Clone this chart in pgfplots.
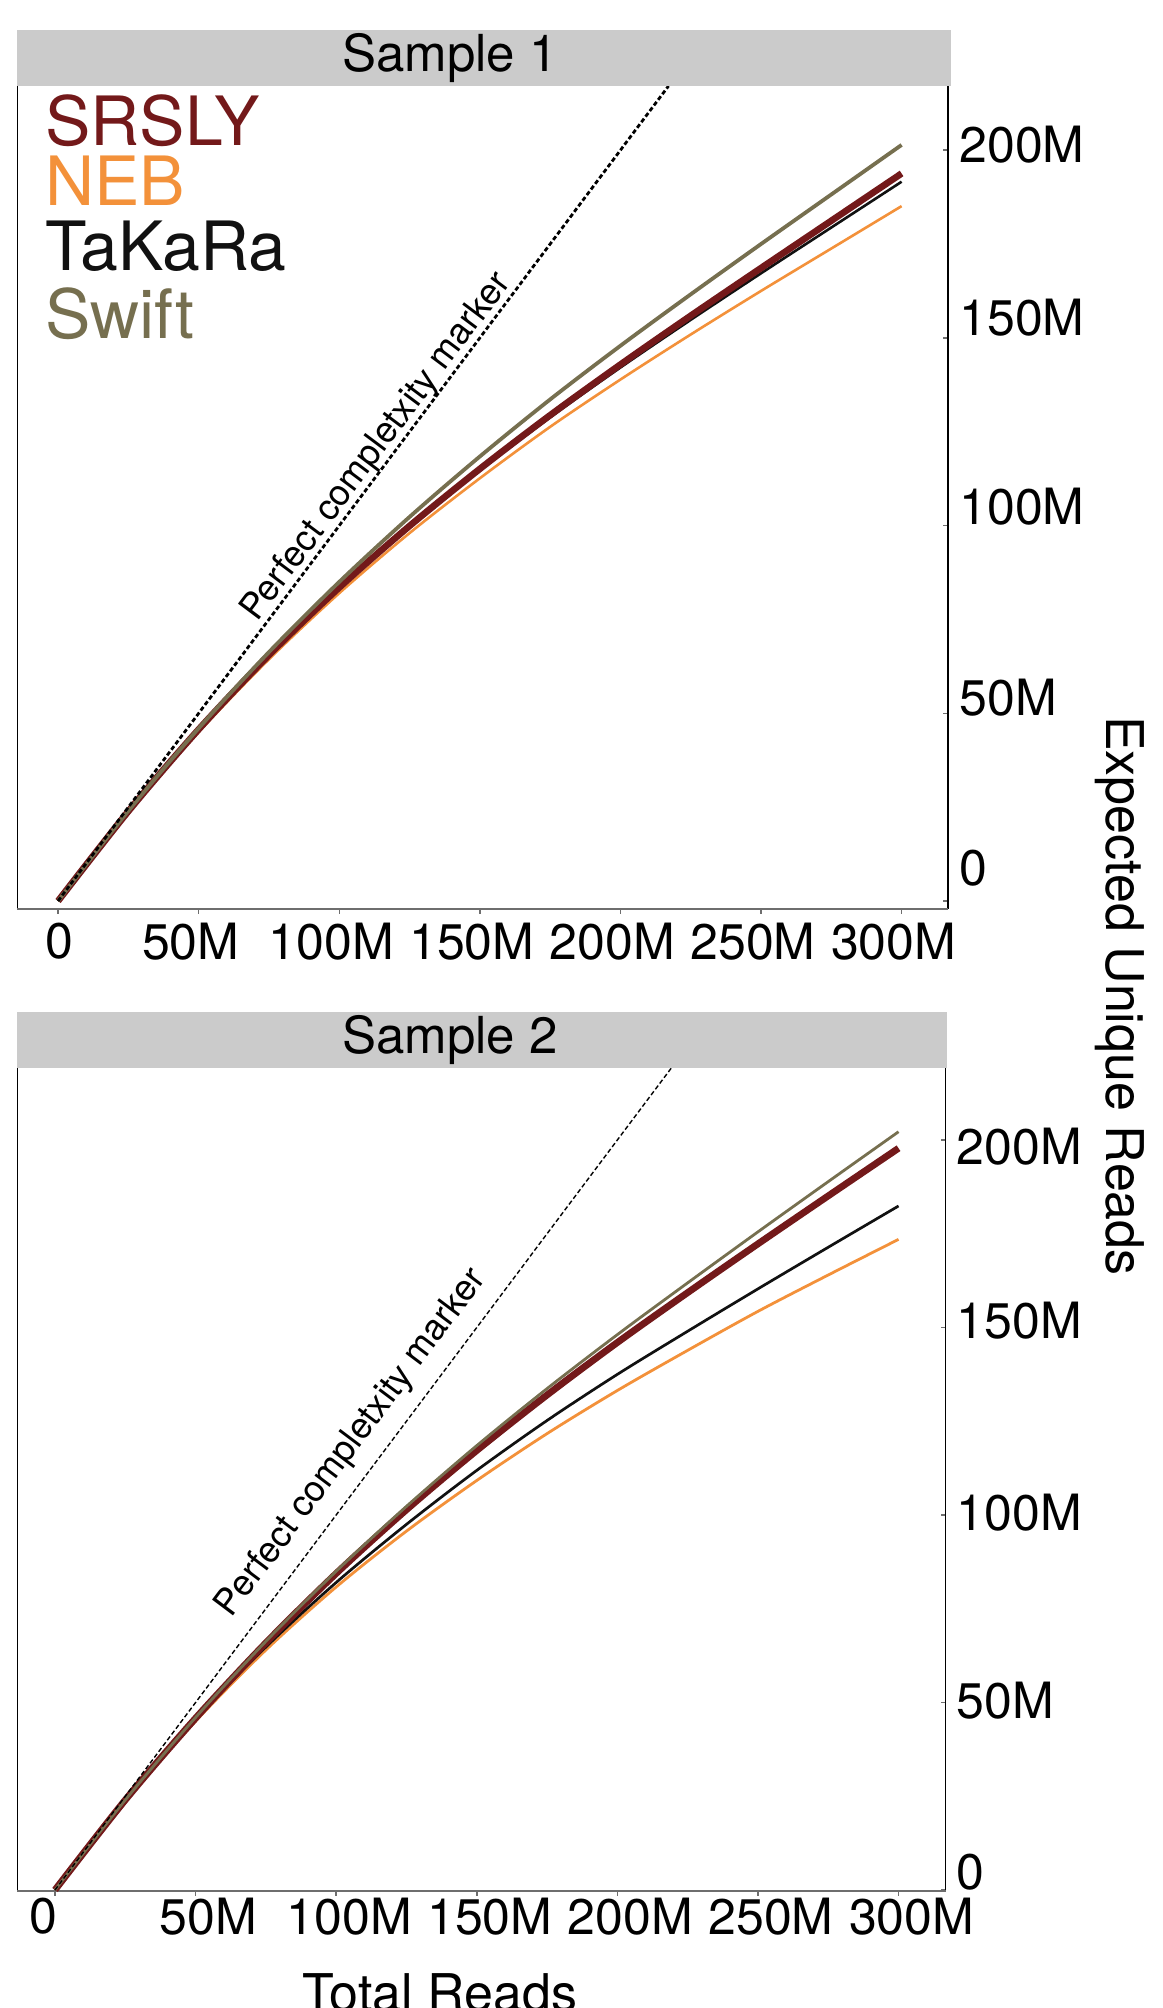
\documentclass[border=0pt]{standalone}
\usepackage{fontspec}
\setmainfont{TeX Gyre Heros}
\usepackage{pgfplots}
\usepackage{pgfplotstable}
\pgfplotsset{compat=1.18}

\definecolor{srsly}{RGB}{115,25,26}
\definecolor{neb}{RGB}{243,145,58}
\definecolor{takara}{RGB}{17,17,17}
\definecolor{swift}{RGB}{118,111,79}
\definecolor{stripgray}{RGB}{203,203,203}
\definecolor{tickgray}{RGB}{110,110,110}

\newcommand\ticfont{\fontsize{25}{30}\selectfont}
\newcommand\labfont{\fontsize{26}{31}\selectfont}
\newcommand\stripfont{\fontsize{25.5}{30}\selectfont}
\newcommand\legfont{\fontsize{34}{40}\selectfont}
\newcommand\pcfont{\fontsize{18}{22}\selectfont}

% Sample 1 (values in millions of reads)
\pgfplotstableread{
x srsly neb takara swift
0 0 0 0 0
25 23.9 23.7 23.9 24.0
50 45.7 45.0 45.6 46.0
75 65.5 64.4 65.3 66.3
100 83.5 82.0 83.3 85.0
125 99.9 98.0 99.6 102.3
150 115.1 112.6 114.7 118.4
175 129.4 126.3 128.8 133.6
200 142.9 138.9 142.1 147.9
225 155.9 150.9 154.8 161.6
250 168.6 162.5 167.2 175.0
275 181.2 173.8 179.4 188.2
300 193.8 185.1 191.6 201.4
}\sampleone

% Sample 2
\pgfplotstableread{
x srsly neb takara swift
0 0 0 0 0
25 24.0 23.7 23.9 24.0
50 45.8 45.0 45.5 46.0
75 65.9 64.0 64.8 66.3
100 84.4 80.8 82.0 85.0
125 101.4 95.7 97.5 102.3
150 117.2 109.2 111.9 118.5
175 132.0 121.7 125.2 133.7
200 146.0 133.2 137.5 148.1
225 159.3 143.9 149.0 161.9
250 172.3 154.3 160.3 175.5
275 185.1 164.0 171.4 188.9
300 197.8 173.5 182.4 202.2
}\sampletwo

\pgfplotsset{
  panel/.style={
    scale only axis, clip=false,
    axis line style={draw=none},
    tick align=outside, major tick length=2.5pt,
    tick style={tickgray, line width=0.75pt},
    xtick pos=left, ytick pos=right, yticklabel pos=right,
    xtick={0,50,100,150,200,250,300},
    ytick={0,50,100,150,200},
    every major y tick/.append style={xshift=-2.5pt},
    xticklabel style={font=\ticfont, inner sep=0pt, anchor=north},
    yticklabel style={font=\ticfont, inner sep=0pt, anchor=base west, xshift=3pt},
    every axis plot/.append style={no markers},
  }
}

\begin{document}
\begin{tikzpicture}
% ---------------- Sample 1 ----------------
\begin{axis}[panel, at={(8.65pt,549.5pt)}, anchor=south west,
  width=465.35pt, height=411.5pt,
  xmin=-14.5, xmax=316.5, ymin=-2.13, ymax=217.1,
  xticklabels={\hspace*{9.5pt}0,50M,100M,150M,200M,250M,300M},
  xticklabel style={xshift=-4pt, yshift=-4.5pt},
  yticklabels={\raisebox{7.5pt}{0},\raisebox{-1pt}{50M},\raisebox{0.5pt}{100M},\raisebox{1pt}{150M},\raisebox{-6pt}{200M}},
]
\draw[black, line width=0.7pt] (rel axis cs:0,0) -- (rel axis cs:0,1);
\draw[black, line width=0.7pt] (rel axis cs:1,0) -- (rel axis cs:1,1);
\draw[tickgray, line width=1pt] (rel axis cs:0,0) -- (rel axis cs:1,0);
\addplot[neb, line width=1.3pt, smooth] table[x=x,y=neb]{\sampleone};
\addplot[takara, line width=1.3pt, smooth] table[x=x,y=takara]{\sampleone};
\addplot[srsly, line width=3.3pt, smooth] table[x=x,y=srsly]{\sampleone};
\addplot[swift, line width=1.9pt, smooth] table[x=x,y=swift]{\sampleone};
\addplot[black, line width=1.4pt, dash pattern=on 2.2pt off 1.3pt] coordinates {(0,0) (217.1,217.1)};
\node[rotate=53.2, font=\pcfont, inner sep=0pt] at (axis cs:113.4,120.9) {Perfect completxity marker};
\end{axis}

% ---------------- Sample 2 ----------------
\begin{axis}[panel, at={(8.65pt,58.5pt)}, anchor=south west,
  width=464.1pt, height=411.5pt,
  xmin=-13.4, xmax=316.7, ymin=-0.27, ymax=219.2,
  xticklabels={\hspace*{-25pt}0,50M,100M,150M,200M,250M,300M},
  xticklabel style={xshift=6.5pt, yshift=-1pt},
  yticklabels={\raisebox{0pt}{0},\raisebox{-8pt}{50M},\raisebox{-8pt}{100M},\raisebox{-5.5pt}{150M},\raisebox{-12.5pt}{200M}},
]
\draw[black, line width=0.7pt] (rel axis cs:0,0) -- (rel axis cs:0,1);
\draw[black, line width=0.7pt] (rel axis cs:1,0) -- (rel axis cs:1,1);
\draw[tickgray, line width=1pt] (rel axis cs:0,0) -- (rel axis cs:1,0);
\addplot[neb, line width=1.4pt, smooth] table[x=x,y=neb]{\sampletwo};
\addplot[takara, line width=1.35pt, smooth] table[x=x,y=takara]{\sampletwo};
\addplot[srsly, line width=3.4pt, smooth] table[x=x,y=srsly]{\sampletwo};
\addplot[swift, line width=1.4pt, smooth] table[x=x,y=swift]{\sampletwo};
\addplot[black, line width=0.7pt, dash pattern=on 2.3pt off 1.3pt] coordinates {(0,0) (219.2,219.2)};
\node[rotate=53.1, font=\pcfont, inner sep=0pt] at (axis cs:105.6,119.2) {Perfect completxity marker};
\end{axis}

% facet strips
\fill[stripgray] (8.65pt,961pt) rectangle (475.5pt,989pt);
\node[font=\stripfont, anchor=base, inner sep=0pt] at (225pt,968pt) {Sample 1};
\fill[stripgray] (8.65pt,470pt) rectangle (473.5pt,498pt);
\node[font=\stripfont, anchor=base, inner sep=0pt] at (225pt,477pt) {Sample 2};

% legend
\node[font=\legfont, text=srsly, anchor=base west, inner sep=0pt] at (22.5pt,931pt) {SRSLY};
\node[font=\legfont, text=neb, anchor=base west, inner sep=0pt] at (22.5pt,901.2pt) {NEB};
\node[font=\legfont, text=takara, anchor=base west, inner sep=0pt] at (22.5pt,868.6pt) {TaKaRa};
\node[font=\legfont, text=swift, anchor=base west, inner sep=0pt] at (22.5pt,834.8pt) {Swift};

% axis titles
\node[font=\labfont, rotate=-90, inner sep=0pt] at (560pt,506pt) {Expected Unique Reads};
\node[font=\labfont, anchor=north, inner sep=0pt] at (220pt,17.5pt) {Total Reads};

\pgfresetboundingbox
\path[use as bounding box] (0,0) rectangle (581pt,1004pt);
\end{tikzpicture}
\end{document}
